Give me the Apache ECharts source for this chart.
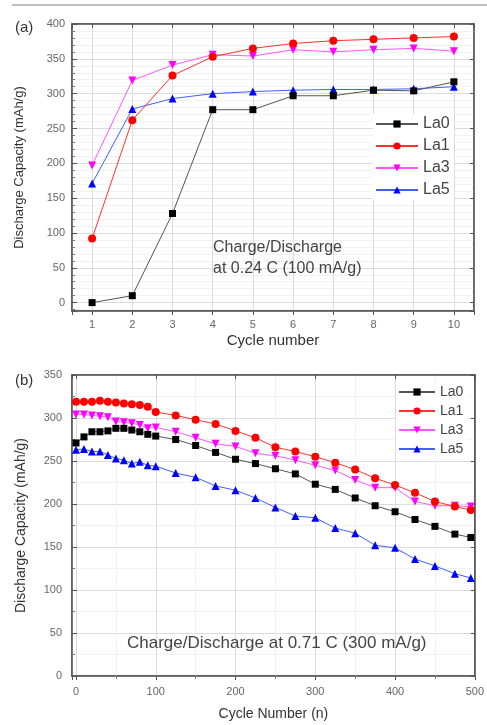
<!DOCTYPE html>
<html>
<head>
    <meta charset="utf-8">
    <title>Discharge capacity</title>
    <script src="https://cdn.jsdelivr.net/npm/echarts@6/dist/echarts.min.js"></script>
    <style>
        html, body {margin: 0; padding: 0; background: #fff;}
        #main {width: 487px; height: 725px;}
    </style>
</head>
<body>
<div id="main"></div>

<script>
    // (a) cycles 1-10 at 0.24 C
    var cyclesA = [1, 2, 3, 4, 5, 6, 7, 8, 9, 10];
    var la0A = [0, 10, 128, 277, 277, 297, 297, 305, 304, 317];
    var la1A = [92, 262, 326, 353, 365, 372, 376, 378, 380, 382];
    var la3A = [197, 319, 341, 356, 354, 363, 360, 363, 365, 361];
    var la5A = [171, 278, 293, 300, 303, 305, 306, 306, 307, 310];

    // (b) cycles 0-500 at 0.71 C
    var cyclesB = [0, 10, 20, 30, 40, 50, 60, 70, 80, 90, 100, 125, 150, 175, 200, 225, 250, 275, 300, 325, 350, 375, 400, 425, 450, 475, 495];
    var la0B = [271, 278, 284, 284, 285, 288, 288, 286, 284, 281, 279, 275, 268, 260, 252, 247, 241, 235, 223, 217, 207, 198, 191, 182, 174, 165, 161];
    var la1B = [319, 319, 319, 320, 319, 318, 317, 316, 315, 313, 307, 303, 298, 293, 285, 277, 266, 261, 255, 248, 240, 230, 222, 213, 203, 197, 193];
    var la3B = [304, 304, 303, 302, 301, 296, 295, 294, 292, 288, 289, 284, 277, 270, 267, 259, 256, 251, 245, 239, 228, 219, 219, 203, 198, 198, 197];
    var la5B = [263, 264, 261, 261, 257, 253, 251, 247, 249, 245, 244, 236, 231, 221, 216, 207, 196, 186, 184, 172, 166, 152, 149, 136, 128, 119, 114];

    var seriesNames = ['La0', 'La1', 'La3', 'La5'];
    var markColors = ['#000000', '#ff0000', '#ff00ff', '#0000ff'];
    var lineColors = ['#555555', '#ff3030', '#ff55ff', '#4060ff'];
    var symbols = ['rect', 'circle', 'triangle', 'triangle'];
    var rotates = [0, 0, 180, 0];

    var FONT = 'Liberation Sans';

    function pairs(xs, ys) {
        return xs.map(function (x, i) { return [x, ys[i]]; });
    }

    function hideEdge(v) {
        // only label the round ticks, not the extent edges
        return (v < 0 || v % 1 !== 0) ? '' : v;
    }

    function mainXAxis(grid, min, max, split, name, gap, size, margin, minor) {
        return {
            type: 'value', gridIndex: grid, min: min, max: max, splitNumber: split,
            name: name, nameLocation: 'middle', nameGap: gap,
            nameTextStyle: {fontFamily: FONT, fontSize: size, color: '#333'},
            axisLine: {show: true, onZero: false, lineStyle: {color: '#555', width: 1.5}},
            axisTick: {show: true, inside: false, length: 4, lineStyle: {color: '#555'}},
            minorTick: {show: minor, splitNumber: 2, length: 3, lineStyle: {color: '#777'}},
            axisLabel: {fontFamily: FONT, fontSize: 11, color: '#666', margin: margin, formatter: hideEdge},
            splitLine: {show: true, lineStyle: {color: '#dcdcdc', width: 1}},
            minorSplitLine: {show: minor, lineStyle: {color: '#f0f0f0', width: 1}}
        };
    }

    function mainYAxis(grid, min, max, split, name, gap, size, margin, minorSplit) {
        return {
            type: 'value', gridIndex: grid, min: min, max: max, splitNumber: split,
            name: name, nameLocation: 'middle', nameGap: gap,
            nameTextStyle: {fontFamily: FONT, fontSize: size, color: '#333'},
            axisLine: {show: true, onZero: false, lineStyle: {color: '#555', width: 1.5}},
            axisTick: {show: true, inside: true, length: 5, lineStyle: {color: '#555'}},
            minorTick: {show: true, splitNumber: minorSplit, length: 3, lineStyle: {color: '#777'}},
            axisLabel: {fontFamily: FONT, fontSize: 11, color: '#666', margin: margin, formatter: hideEdge},
            splitLine: {show: true, lineStyle: {color: '#dcdcdc', width: 1}},
            minorSplitLine: {show: true, lineStyle: {color: '#f2f2f2', width: 1}}
        };
    }

    function mirrorAxis(grid, min, max, split, pos) {
        return {
            type: 'value', gridIndex: grid, min: min, max: max, splitNumber: split, position: pos,
            axisLine: {show: true, onZero: false, lineStyle: {color: '#555', width: 1.5}},
            axisTick: {show: true, inside: true, length: 4, lineStyle: {color: '#555'}},
            axisLabel: {show: false},
            splitLine: {show: false}
        };
    }

    var xAxes = [
        mainXAxis(0, 0.5, 10.5, 10, 'Cycle number', 22, 15, 8, false),
        mainXAxis(1, -5, 500, 5, 'Cycle Number (n)', 31, 14, 10, true),
        mirrorAxis(0, 0.5, 10.5, 10, 'top'),
        mirrorAxis(1, -5, 500, 5, 'top')
    ];
    var yAxes = [
        mainYAxis(0, -12, 400, 8, 'Discharge Capacity (mAh/g)', 46, 13, 7, 5),
        mainYAxis(1, 0, 350, 7, 'Discharge Capacity (mAh/g)', 44, 14, 10, 2),
        mirrorAxis(0, -12, 400, 8, 'right'),
        mirrorAxis(1, 0, 350, 7, 'right')
    ];

    var series = [];
    var dataA = [la0A, la1A, la3A, la5A];
    var dataB = [la0B, la1B, la3B, la5B];
    seriesNames.forEach(function (name, i) {
        series.push({
            name: name, type: 'line', xAxisIndex: 0, yAxisIndex: 0,
            data: pairs(cyclesA, dataA[i]),
            symbol: symbols[i], symbolRotate: rotates[i], symbolSize: i === 0 ? 7 : 8,
            itemStyle: {color: markColors[i]},
            lineStyle: {color: lineColors[i], width: 1},
            z: 10 - i
        });
        series.push({
            name: name, type: 'line', xAxisIndex: 1, yAxisIndex: 1,
            data: pairs(cyclesB, dataB[i]),
            symbol: symbols[i], symbolRotate: rotates[i], symbolSize: i === 0 ? 7 : 8,
            itemStyle: {color: markColors[i]},
            lineStyle: {color: lineColors[i], width: 1},
            z: 10 - i
        });
    });

    var chart = echarts.init(document.getElementById('main'));
    chart.setOption({
        backgroundColor: '#fff',
        animation: false,
        textStyle: {fontFamily: FONT},
        grid: [
            {left: 72, top: 24, width: 402, height: 287, show: true, borderColor: '#555', borderWidth: 1.5},
            {left: 72, top: 375, width: 405, height: 301, show: true, borderColor: '#555', borderWidth: 1.5}
        ],
        xAxis: xAxes,
        yAxis: yAxes,
        legend: [
            {
                data: seriesNames, orient: 'vertical', left: 373, top: 114,
                itemWidth: 42, itemHeight: 9, itemGap: 6, padding: [2, 4, 2, 2],
                backgroundColor: '#fff',
                textStyle: {fontFamily: FONT, fontSize: 16, color: '#444'}
            },
            {
                data: seriesNames, orient: 'vertical', left: 396, top: 383,
                itemWidth: 36, itemHeight: 9, itemGap: 5, padding: [2, 4, 2, 2],
                backgroundColor: '#fff',
                textStyle: {fontFamily: FONT, fontSize: 14, color: '#444'}
            }
        ],
        title: [
            {text: '(a)', left: 10, top: 15, textStyle: {fontFamily: FONT, fontSize: 15, fontWeight: 'normal', color: '#333'}},
            {text: '(b)', left: 10, top: 368, textStyle: {fontFamily: FONT, fontSize: 15, fontWeight: 'normal', color: '#333'}},
            {text: 'Charge/Discharge\nat 0.24 C (100 mA/g)', left: 208, top: 232,
                textStyle: {fontFamily: FONT, fontSize: 16, fontWeight: 'normal', color: '#444', lineHeight: 21}},
            {text: 'Charge/Discharge at 0.71 C (300 mA/g)', left: 122, top: 630,
                textStyle: {fontFamily: FONT, fontSize: 17, fontWeight: 'normal', color: '#444'}}
        ],
        graphic: [
            {type: 'line', shape: {x1: 12, y1: 5, x2: 487, y2: 5}, style: {stroke: '#aaa', lineWidth: 1.5}}
        ],
        series: series
    });
</script>
</body>
</html>
